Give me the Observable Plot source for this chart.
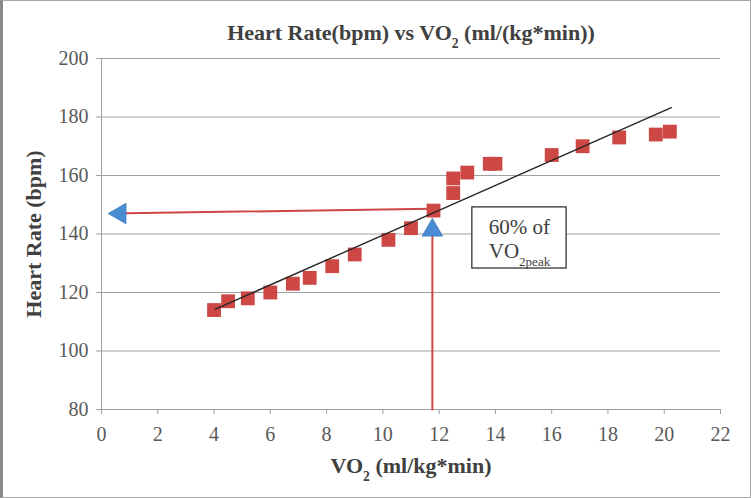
<!DOCTYPE html>
<html>
<head>
<meta charset="utf-8">
<script src="https://cdn.jsdelivr.net/npm/d3@7"></script>
<script src="https://cdn.jsdelivr.net/npm/@observablehq/plot@0.6"></script>
<style>
  html, body { margin: 0; padding: 0; background: #fff; }
  #wrap { position: relative; width: 751px; height: 498px; overflow: hidden; }
  #frame { position: absolute; left: 0; top: 0; width: 751px; height: 498px; box-sizing: border-box;
           border: 1px solid #a6a6a6; border-left: 3px solid #8a8a8a; pointer-events: none; }
</style>
</head>
<body>
<div id="wrap"><div id="frame"></div></div>
<script>
// ---- data ----
const vo2 = [4.0, 4.5, 5.2, 6.0, 6.8, 7.4, 8.2, 9.0, 10.2, 11.0, 11.8, 12.5, 12.5, 13.0, 13.8, 14.0, 16.0, 17.1, 18.4, 19.7, 20.2];
const hr  = [114, 117, 118, 120, 123, 125, 129, 133, 138, 142, 148, 154, 159, 161, 164, 164, 167, 170, 173, 174, 175];
const trendX = [4.05, 20.25];
const trendY = [114.3, 183.2];
const hArrowX = [11.7, 0.85];
const hArrowY = [148.6, 147.1];
const hHeadX = [0.66];
const hHeadY = [147.0];
const vArrowX = [11.76, 11.76];
const vArrowY = [80, 139.5];
const vHeadX = [11.76];
const vHeadY = [141.3];
const boxX = [13.18, 16.53];
const boxY = [128.2, 149.1];
const boxLines = ["60% of", "VO2peak"];
const boxLineY = [142.4, 134.2];
const xTicks = [0, 2, 4, 6, 8, 10, 12, 14, 16, 18, 20, 22];
const yTicks = [80, 100, 120, 140, 160, 180, 200];
const title = "Heart Rate(bpm) vs VO2 (ml/(kg*min))";
const xLabel = "VO2 (ml/kg*min)";
const yLabel = "Heart Rate (bpm)";

const points = vo2.map((x, i) => ({x, y: hr[i]}));
const trend = trendX.map((x, i) => ({x, y: trendY[i]}));
const hArrow = hArrowX.map((x, i) => ({x, y: hArrowY[i]}));
const vArrow = vArrowX.map((x, i) => ({x, y: vArrowY[i]}));
const boxText = boxLines.map((t, i) => ({t, x: (boxX[0] + boxX[1]) / 2, y: boxLineY[i]}));

const gray = "#a0a0a0";
const red = "#cd4744";
const blue = "#4a8cd3";
const font = "'Liberation Serif', 'Times New Roman', serif";

const svg = Plot.plot({
  width: 751,
  height: 498,
  marginLeft: 101,
  marginRight: 31,
  marginTop: 58,
  marginBottom: 89,
  style: {fontFamily: font, fontSize: "20px", color: "#595959", background: "transparent"},
  x: {domain: [0, 22], label: null},
  y: {domain: [80, 200], label: null},
  marks: [
    Plot.gridY(yTicks.filter(d => d > 80), {stroke: gray, strokeOpacity: 1, strokeWidth: 1}),
    Plot.ruleY([80], {stroke: gray}),
    Plot.ruleX([0], {stroke: gray}),
    Plot.axisY({ticks: yTicks, tickSize: 5, tickPadding: 8, stroke: gray, strokeOpacity: 1, label: null, fill: "#595959", fontSize: 20}),
    Plot.axisX({ticks: xTicks, tickSize: 5, tickPadding: 12, stroke: gray, strokeOpacity: 1, label: null, fill: "#595959", fontSize: 20}),
    // annotation lines
    Plot.line(hArrow, {x: "x", y: "y", stroke: red, strokeWidth: 2}),
    Plot.line(vArrow, {x: "x", y: "y", stroke: red, strokeWidth: 2}),
    // data
    Plot.dot(points, {x: "x", y: "y", symbol: "square", r: 7.8, fill: red, stroke: "none"}),
    Plot.line(trend, {x: "x", y: "y", stroke: "#262626", strokeWidth: 1.4}),
    // arrow heads
    Plot.dot(hHeadX.map((x, i) => ({x, y: hHeadY[i]})), {x: "x", y: "y", symbol: "triangle", r: 7.6, rotate: -90, fill: blue, stroke: "#3a78bd", strokeWidth: 0.8}),
    Plot.dot(vHeadX.map((x, i) => ({x, y: vHeadY[i]})), {x: "x", y: "y", symbol: "triangle", r: 7.6, fill: blue, stroke: "#3a78bd", strokeWidth: 0.8}),
    // annotation box
    Plot.rect([{x1: boxX[0], x2: boxX[1], y1: boxY[0], y2: boxY[1]}], {x1: "x1", x2: "x2", y1: "y1", y2: "y2", fill: "white", stroke: "#333", strokeWidth: 1.3}),
    Plot.text(boxText, {x: "x", y: "y", text: "t", fontSize: 21, fill: "#404040", lineAnchor: "middle", textAnchor: "middle"}),
    // titles
    Plot.text([title], {frameAnchor: "top", dy: -26, fontSize: 22, fontWeight: "bold", fill: "#404040", lineAnchor: "middle", textAnchor: "middle"}),
    Plot.text([xLabel], {frameAnchor: "bottom", dy: 56, fontSize: 22, fontWeight: "bold", fill: "#404040", lineAnchor: "middle", textAnchor: "middle"}),
    Plot.text([yLabel], {frameAnchor: "left", dx: -68, rotate: -90, fontSize: 22, fontWeight: "bold", fill: "#404040", lineAnchor: "middle", textAnchor: "middle"})
  ]
});

// subscript "2" in VO2
d3.select(svg).selectAll("text").each(function () {
  const t = this.textContent;
  if (!/VO2/.test(t) || this.querySelector("tspan")) return;
  const parts = t.split(/(VO)(2(?:peak)?)/);
  this.textContent = "";
  parts.forEach((p, i) => {
    if (p === "") return;
    const ts = document.createElementNS("http://www.w3.org/2000/svg", "tspan");
    ts.textContent = p;
    if (i % 3 === 2) {
      ts.setAttribute("baseline-shift", "sub");
      ts.setAttribute("font-size", "62%");
    }
    this.appendChild(ts);
  });
});

document.getElementById("wrap").prepend(svg);
svg.style.position = "absolute";
svg.style.left = "0";
svg.style.top = "0";
</script>
</body>
</html>
